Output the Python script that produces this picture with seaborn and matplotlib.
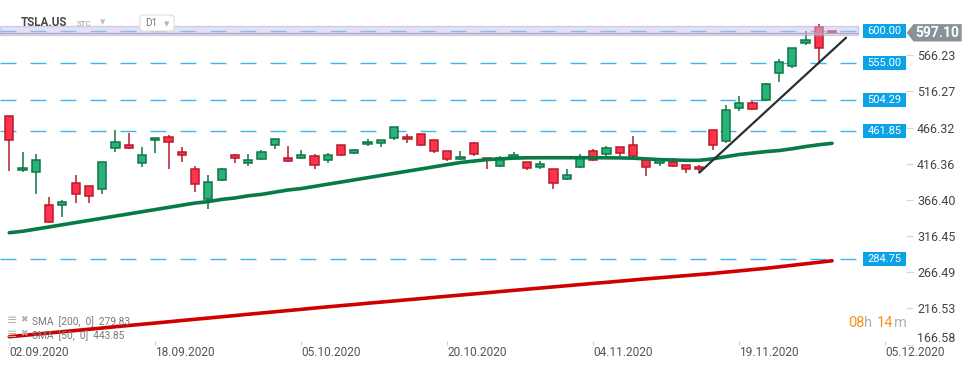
import numpy as np
import pandas as pd
import matplotlib
matplotlib.use("Agg")
import matplotlib.pyplot as plt
import matplotlib.transforms as mtransforms
from matplotlib.patches import Rectangle, Polygon, FancyBboxPatch
import seaborn as sns

# ---------------- data ----------------
symbol = "TSLA.US"
timeframe = "D1"

opens = [482, 407, 404.4, 359, 359, 389.3, 385, 382, 437.6, 441.7,
         416.9, 448.7, 452.8, 432, 408.6, 367.2, 394.2, 427.9, 416.9, 422.4,
         441.7, 423.8, 423.8, 426.5, 421, 441.7, 430.7, 443.1, 444.5, 451.4,
         452.8, 456.9, 448.7, 433.4, 422.4, 444.5, 423.8, 412.7, 423.8, 418.3,
         411.4, 408.6, 394.8, 411.4, 433.4, 429.3, 439, 441.7, 421, 416.9,
         418.7, 414.1, 411.4, 462.4, 448.2, 492.8, 499.7, 503.9, 541.2, 550.8,
         582.6, 604.7, 599.2]
highs = [482.5, 432.5, 429.7, 370, 366, 400.7, 385.5, 419, 462.4, 458.7,
         439.4, 452, 456, 439.4, 413.2, 400.7, 410, 429.7, 429.7, 434.8,
         450.5, 440.3, 434.8, 429.3, 430.7, 442.5, 436.6, 450, 449.5, 467,
         456.9, 457.5, 449.2, 433.8, 433.9, 445.9, 424.2, 426.5, 432.5, 418.7,
         419.6, 409, 408.6, 429.3, 436.2, 440.8, 439.4, 454.2, 421.4, 421.4,
         423.8, 414.5, 414.1, 462.8, 497.4, 509.8, 502.9, 527.4, 560.5, 576.1,
         599.2, 608.8, 599.4]
lows = [406.7, 405, 375, 335, 343, 362.5, 362.5, 375, 433, 437,
        412.2, 431.5, 409.5, 419, 377.7, 354.2, 392.9, 417.9, 413.6, 421.5,
        437, 419, 422.4, 408.6, 416.9, 427, 429.3, 441.2, 439, 449.5,
        444.5, 441, 431.5, 420.5, 422, 426.5, 409.5, 412.3, 423.4, 407.6,
        408.6, 381.8, 394.4, 410, 419.6, 426.5, 426.5, 426, 398.9, 412.7,
        412.3, 403.9, 405.3, 435.7, 445.3, 489.5, 491, 503.5, 528.7, 548,
        579.8, 555, 597]
closes = [449, 410, 421, 336, 363, 375, 372, 418.3, 445.9, 438.4,
          427.9, 451.4, 446.8, 427.9, 387.9, 390.6, 408.6, 423.8, 421, 432,
          450, 419.6, 427.9, 414.1, 427.9, 427.9, 434.8, 446.3, 448.7, 466.6,
          450, 441.7, 433.4, 422.4, 425.1, 429.3, 421, 423.8, 428.3, 410,
          415.5, 389.2, 400.3, 423.8, 421, 437.6, 430.7, 426.5, 411.4, 421,
          412.7, 408.6, 408.6, 441.7, 490, 499.7, 491.4, 526, 556.4, 575.7,
          586.7, 575.7, 597.1]

sma50 = [321, 323, 326, 329, 332, 335, 338, 341, 344, 347,
         350, 353, 356, 359, 362, 364, 367, 369, 372, 374,
         377, 380, 382, 385, 388, 391, 394, 397, 400, 403,
         406, 409, 412, 415, 418, 420, 422, 423, 424, 424.5,
         424.6, 424.6, 424.6, 424.6, 424.6, 424.5, 424.3, 424, 423, 422,
         421.5, 421, 421, 423, 426, 429, 431, 433, 434.5, 437,
         440, 442.5, 444.5]
sma200 = [177.4, 179.1, 180.8, 182.6, 184.3, 186.0, 187.7, 189.4, 191.2, 192.9,
          194.6, 196.3, 198.0, 199.8, 201.5, 203.2, 204.9, 206.6, 208.4, 210.1,
          211.8, 213.5, 215.2, 217.0, 218.7, 220.3, 221.9, 223.6, 225.2, 226.8,
          228.4, 230.0, 231.7, 233.3, 234.9, 236.5, 238.1, 239.8, 241.4, 243.0,
          244.6, 246.2, 247.8, 249.4, 251.0, 252.5, 254.1, 255.7, 257.3, 258.8,
          260.3, 261.8, 263.3, 264.8, 266.6, 268.3, 270.1, 271.8, 273.9, 276.0,
          278.1, 280.2, 282.3]

sma200_label = "SMA  [200,  0]  279.83"
sma50_label = "SMA  [50,  0]  443.85"

levels = [600.00, 555.00, 504.29, 461.85, 284.75]
current_price = 597.10
zone_low, zone_high = 593.6, 606.5
trend_x = [52.0, 63.05]
trend_y = [404.0, 590.3]

y_ticks = [166.58, 216.53, 266.49, 316.45, 366.40, 416.36, 466.32, 516.27, 566.23]
date_pos = [0, 11, 22, 33, 44, 55, 66]
date_labels = ["02.09.2020", "18.09.2020", "05.10.2020", "20.10.2020",
               "04.11.2020", "19.11.2020", "05.12.2020"]
timer_parts = [("08", "#f7931e"), ("h", "#b0b0b0"), ("14", "#f7931e"), ("m", "#b0b0b0")]

# ---------------- style ----------------
sns.set_theme(style="white")
plt.rcParams["font.family"] = ["Roboto", "DejaVu Sans"]

W, H = 974, 368
fig = plt.figure(figsize=(W / 100, H / 100), dpi=100)
fig.patch.set_facecolor("white")
ax = fig.add_axes([0, 23 / H, 906 / W, 345 / H])
ax.set_facecolor("white")
ax.set_xlim(-0.70, 67.57)
ax.set_ylim(165.96, 642.4)
for s in ax.spines.values():
    s.set_visible(False)


def fx(px):
    return px / W


def fy(py):
    return 1 - py / H


n = len(opens)
idx = np.arange(n)
line_end = 63.96

# dashed levels
blue = "#1aa9ec"
for lv in levels:
    ax.plot([-0.7, line_end], [lv, lv], color=blue, lw=1.0, alpha=0.85,
            dashes=(11.5, 10.1), zorder=1)

# candles
up_fill, up_edge = "#27b37a", "#117545"
dn_fill, dn_edge = "#ff3349", "#b81a2c"
for i in range(n):
    o, h, l, c = opens[i], highs[i], lows[i], closes[i]
    up = c >= o
    fill = up_fill if up else dn_fill
    edge = up_edge if up else dn_edge
    ax.vlines(i, l, h, color=edge, lw=1.1, zorder=3)
    bot = min(o, c)
    hgt = max(abs(c - o), 1.3)
    ax.bar(i, hgt, bottom=bot, width=0.62, color=fill, edgecolor=edge,
           linewidth=1.1, zorder=4)

# moving averages
df = pd.DataFrame({"idx": idx, "sma50": sma50, "sma200": sma200})
sns.lineplot(data=df, x="idx", y="sma200", color="#d00000", linewidth=2.6,
             ax=ax, zorder=5)
sns.lineplot(data=df, x="idx", y="sma50", color="#067a47", linewidth=2.6,
             ax=ax, zorder=5)

# trend line
ax.plot(trend_x, trend_y, color="#2b2f33", lw=1.6, zorder=6,
        solid_capstyle="round")

# current price line and zone
ax.plot([-0.7, line_end], [current_price, current_price], color="#8c8c8c",
        lw=0.9, zorder=7)
ax.add_patch(Rectangle((-0.7, zone_low), line_end + 0.7, zone_high - zone_low,
                       facecolor=(0.80, 0.76, 0.92), alpha=0.5,
                       edgecolor="#b3a6d6", linewidth=1.0, zorder=8))

# level label boxes
box_h = 19.3
for lv in levels:
    ax.add_patch(Rectangle((64.33, lv - box_h / 2), 67.57 - 64.33, box_h,
                           facecolor="#0aa3e6", edgecolor="none", zorder=9,
                           clip_on=False))
    ax.text((64.33 + 67.57) / 2, lv, f"{lv:.2f}", color="white", fontsize=8,
            ha="center", va="center", zorder=10)

# current price tag (outside axes)
bt = mtransforms.blended_transform_factory(fig.transFigure, ax.transData)
dy = 8.7 * 1.381
tag = Polygon([(fx(906.7), current_price), (fx(913.5), current_price + dy),
               (fx(961.7), current_price + dy), (fx(961.7), current_price - dy),
               (fx(913.5), current_price - dy)], closed=True,
              facecolor="#899296", edgecolor="none", transform=bt,
              clip_on=False, zorder=10)
fig.patches.append(tag)
t = fig.text(fx(937.5), current_price, f"{current_price:.2f}", color="white",
             fontsize=10, fontweight="bold", ha="center", va="center",
             zorder=11)
t.set_transform(bt)

# axes ticks
ax.yaxis.tick_right()
ax.set_yticks(y_ticks)
ax.set_yticklabels([f"{v:.2f}" for v in y_ticks])
ax.tick_params(axis="y", right=True, length=5, width=0.8, color="#d6d6d6",
               labelcolor="#444444", labelsize=9, pad=3)
ax.set_xticks(date_pos)
ax.set_xticklabels(date_labels)
ax.tick_params(axis="x", bottom=True, direction="in", length=3, width=0.8,
               color="#d0d0d0", labelcolor="#555555", labelsize=8.6, pad=1)
for lab in ax.get_xticklabels():
    lab.set_ha("left")
# the lowest price label is pushed up to stay inside the price pane
low_lab = ax.get_yticklabels()[0]
low_lab.set_transform(low_lab.get_transform() +
                      mtransforms.ScaledTranslation(0, 8 / 100, fig.dpi_scale_trans))
ax.set_xlabel("")
ax.set_ylabel("")
ax.grid(False)

# header
fig.text(fx(21), fy(23), symbol, fontsize=8.4, fontweight="bold",
         color="#4a4a4a", ha="left", va="center", zorder=1)
fig.text(fx(77), fy(24.5), "STC", fontsize=5.8, color="#9a9a9a",
         ha="left", va="center")
fig.text(fx(103), fy(22), "\u25BC", fontsize=5, color="#bdbdbd",
         ha="center", va="center", family=["DejaVu Sans"])
d1 = FancyBboxPatch((fx(140), fy(31)), fx(174) - fx(140), fy(15) - fy(31),
                    boxstyle="round,pad=0,rounding_size=0.006",
                    transform=fig.transFigure, facecolor="white",
                    edgecolor="#e2e2e2", linewidth=0.9, zorder=0)
fig.patches.append(d1)
fig.text(fx(145), fy(23.5), timeframe, fontsize=7.2, color="#777777",
         ha="left", va="center")
fig.text(fx(167), fy(24), "\u25BC", fontsize=5, color="#b5b5b5",
         ha="center", va="center", family=["DejaVu Sans"])

# indicator legend
for yy, lab in [(321.5, sma200_label), (335.3, sma50_label)]:
    fig.text(fx(7), fy(yy - 1), "\u2261", fontsize=9, color="#b0b0b0",
             ha="left", va="center", family=["DejaVu Sans"])
    fig.text(fx(20), fy(yy - 2), "\u2716", fontsize=6.5, color="#b0b0b0",
             ha="left", va="center", family=["DejaVu Sans"])
    fig.text(fx(32), fy(yy), lab, fontsize=7.3, color="#7a7a7a",
             ha="left", va="center")

# candle timer
xs = [848, 864, 877, 894]
for (tx, col), x0 in zip(timer_parts, xs):
    fig.text(fx(x0), fy(323), tx, fontsize=10.5, color=col, ha="left",
             va="center")

fig.savefig("out.png", dpi=100, facecolor="white")
